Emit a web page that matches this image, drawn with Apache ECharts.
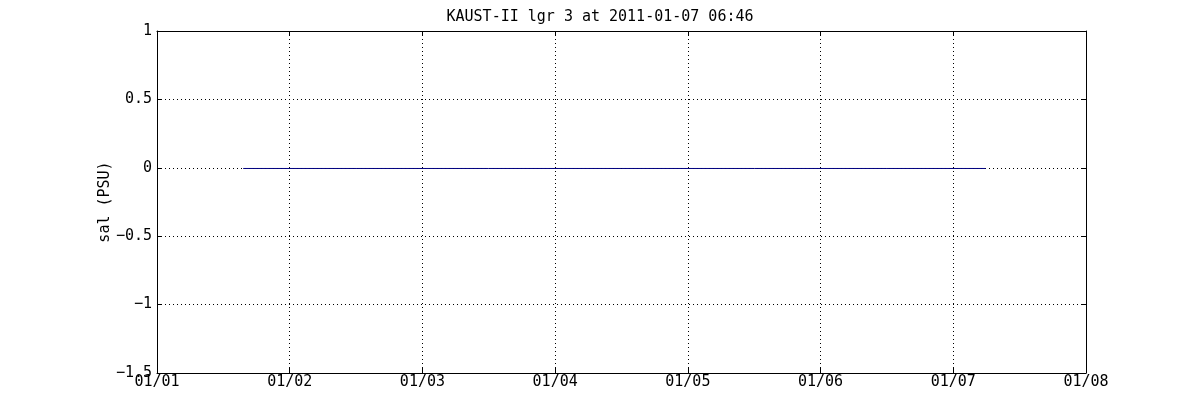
<!DOCTYPE html>
<html><head><meta charset="utf-8">
<script src="https://cdn.jsdelivr.net/npm/echarts@6/dist/echarts.min.js"></script>
<style>html,body{margin:0;padding:0;background:#fff}#c{width:1200px;height:420px}</style>
</head><body><div id="c"></div>
<script>
const titleText = 'KAUST-II lgr 3 at 2011-01-07 06:46';
const yAxisName = 'sal (PSU)';
const sampleTimes = ['2011-01-01T15:35', '2011-01-02T12:00', '2011-01-03T12:00', '2011-01-04T12:00', '2011-01-05T12:00', '2011-01-06T12:00', '2011-01-07T05:50'];
const salValues = [-0.005, -0.005, -0.005, -0.005, -0.005, -0.005, -0.005];
const xMinDate = '2011-01-01T00:00';
const xMaxDate = '2011-01-08T00:00';
const yTicks = [-1.5, -1, -0.5, 0, 0.5, 1];

const DAY = 86400000;
const toMs = s => Date.parse(s + ':00Z');
const fmtDate = v => { const d = new Date(v); return String(d.getUTCMonth()+1).padStart(2,'0') + '/' + String(d.getUTCDate()).padStart(2,'0'); };
const fmtNum = v => (v < 0 ? '\u2212' : '') + String(Math.abs(v));
const font = 'DejaVu Sans Mono';
const fs = 15;
const chart = echarts.init(document.getElementById('c'));
const grid = {left:157, right:114, top:31, bottom:47};
const axLine = {show:true, onZero:false, lineStyle:{color:'#000', width:1}};
const tick = {show:true, inside:true, length:5, lineStyle:{color:'#000'}};
const split = {show:true, lineStyle:{color:'#000', type:[1,3], width:1}};
chart.setOption({
  animation:false,
  backgroundColor:'#fff',
  title:{text:titleText, left:'center', top:5, textStyle:{fontFamily:font, fontSize:fs, fontWeight:'normal', color:'#000'}},
  grid,
  xAxis:[
    {type:'value', min:toMs(xMinDate), max:toMs(xMaxDate), interval:DAY, position:'bottom',
     axisLine:axLine, axisTick:tick, splitLine:split,
     axisLabel:{formatter:fmtDate, fontFamily:font, fontSize:fs, color:'#000', margin:2}},
    {type:'value', min:toMs(xMinDate), max:toMs(xMaxDate), interval:DAY, position:'top',
     axisLine:axLine, axisTick:tick, splitLine:{show:false}, axisLabel:{show:false}}
  ],
  yAxis:[
    {type:'value', min:yTicks[0], max:yTicks[yTicks.length-1], interval:0.5, position:'left',
     name:yAxisName, nameLocation:'middle', nameGap:52, nameRotate:90, nameMoveOverlap:false,
     nameTextStyle:{fontFamily:font, fontSize:fs, color:'#000', verticalAlign:'middle'},
     axisLine:axLine, axisTick:tick, splitLine:split,
     axisLabel:{formatter:fmtNum, fontFamily:font, fontSize:fs, color:'#000', margin:5}},
    {type:'value', min:yTicks[0], max:yTicks[yTicks.length-1], interval:0.5, position:'right',
     axisLine:axLine, axisTick:tick, splitLine:{show:false}, axisLabel:{show:false}}
  ],
  series:[{type:'line', xAxisIndex:0, yAxisIndex:0, showSymbol:false, symbol:'none',
    lineStyle:{color:'#000080', width:1},
    data: sampleTimes.map((t,i)=>[toMs(t), salValues[i]])}]
});
</script></body></html>
